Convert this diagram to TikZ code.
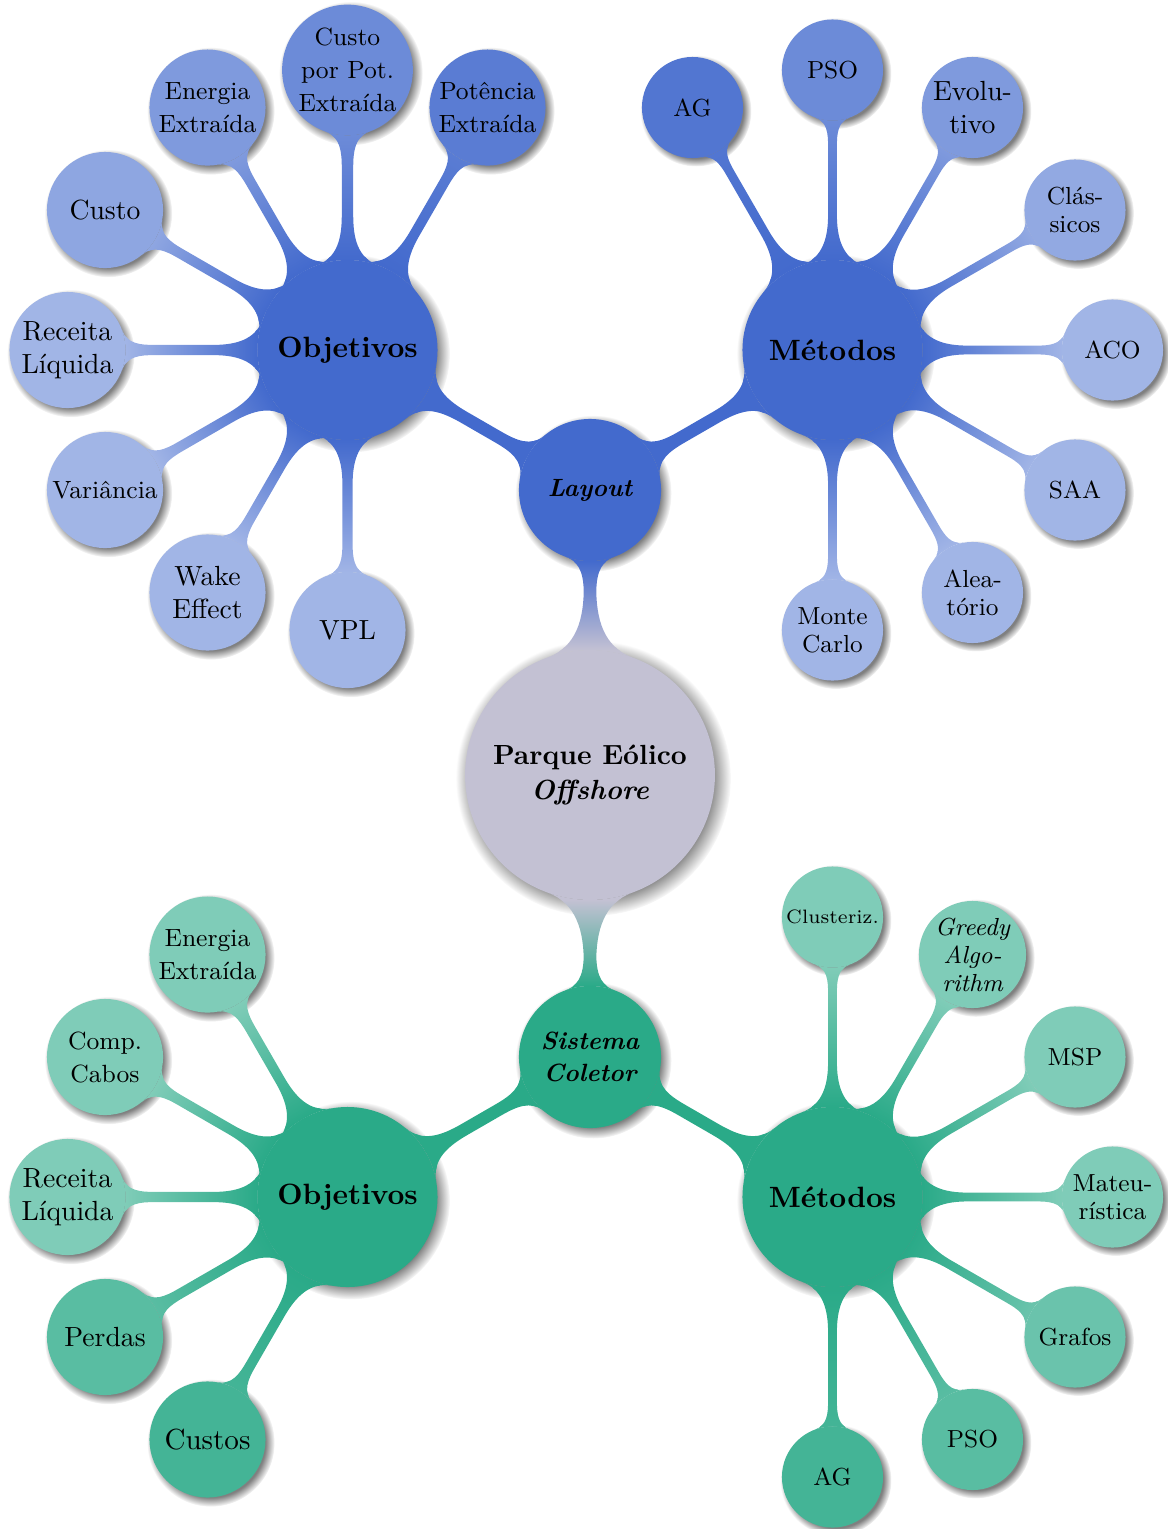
\documentclass[tikz,border=0pt]{standalone}
\usetikzlibrary{mindmap,shadows}
\definecolor{rootcol}{RGB}{195,193,211}
\definecolor{bl}{RGB}{67,106,205}
\definecolor{gr}{RGB}{42,170,136}
\colorlet{bl50}{bl!50!white}
\colorlet{bl58}{bl!58!white}
\colorlet{bl60}{bl!60!white}
\colorlet{bl68}{bl!68!white}
\colorlet{bl78}{bl!78!white}
\colorlet{bl88}{bl!88!white}
\colorlet{bl92}{bl!92!white}
\colorlet{gr60}{gr!60!white}
\colorlet{gr70}{gr!70!white}
\colorlet{gr78}{gr!78!white}
\colorlet{gr88}{gr!88!white}
\begin{document}
\begin{tikzpicture}[mindmap, x=0.361pt, y=0.361pt,
  cc/.style={concept, circle, draw=none, text width={}, align=center, inner sep=0.3pt, text=black,
    circular drop shadow={shadow xshift=1.1pt, shadow yshift=-1.1pt}},
  cl/.style={concept color=#1, fill=#1},
  rootc/.style={cc, cl=rootcol, minimum size=90.2pt, font={\fontsize{10}{12.6}\selectfont\bfseries}},
  lvA/.style={cc, minimum size=51.3pt, font={\fontsize{9}{11.6}\selectfont\bfseries\itshape}},
  lvB/.style={cc, minimum size=65pt, font={\fontsize{10.6}{12.5}\selectfont\bfseries}},
  lfO/.style={cc, minimum size=41.9pt},
  lfM/.style={cc, minimum size=36.5pt},
  fbig/.style={font={\fontsize{10}{11.9}\selectfont}},
  fmedO/.style={font={\fontsize{9}{11.9}\selectfont}},
  fmed/.style={font={\fontsize{8.9}{10.1}\selectfont}},
  fmedI/.style={font={\fontsize{8.9}{10.1}\selectfont\itshape}},
  fsm/.style={font={\fontsize{7}{8.5}\selectfont}},
  fhuge/.style={font={\fontsize{10.5}{12.3}\selectfont}},
  cbar/.style={line width=3.6pt}
]
\useasboundingbox (0,0) rectangle (1168,-1529);

% main nodes
\node[rootc] (root) at (590,-775) {Parque Eólico\\\textit{Offshore}};
\node[lvA, cl=bl] (lay) at (590,-490) {Layout};
\node[lvA, cl=gr] (sis) at (590,-1057) {Sistema\\Coletor};
\node[lvB, cl=bl] (objT) at (347.5,-350) {Objetivos};
\node[lvB, cl=bl] (metT) at (832.5,-350) {Métodos};
\node[lvB, cl=gr] (objB) at (347.5,-1197) {Objetivos};
\node[lvB, cl=gr] (metB) at (832.5,-1197) {Métodos};

% top objetivos leaves
\path (objT) ++(180:280) node[lfO, cl=bl50, fbig] (t1) {Receita\\Líquida};
\path (objT) ++(150:280) node[lfO, cl=bl60, fbig] (t2) {Custo};
\path (objT) ++(120:280) node[lfO, cl=bl68, fmedO] (t3) {Energia\\Extraída};
\path (objT) ++(90:280) node[lfO, cl=bl78, fmedO] (t4) {Custo\\por Pot.\\Extraída};
\path (objT) ++(60:280) node[lfO, cl=bl88, fmedO] (t5) {Potência\\Extraída};
\path (objT) ++(210:280) node[lfO, cl=bl50, fmedO] (t6) {Variância};
\path (objT) ++(240:280) node[lfO, cl=bl50, fbig] (t7) {Wake\\Effect};
\path (objT) ++(270:280) node[lfO, cl=bl50, fbig] (t8) {VPL};

% top metodos leaves
\path (metT) ++(120:280) node[lfM, cl=bl92, fmed] (m1) {AG};
\path (metT) ++(90:280) node[lfM, cl=bl78, fmed] (m2) {PSO};
\path (metT) ++(60:280) node[lfM, cl=bl68, fbig] (m3) {Evolu-\\tivo};
\path (metT) ++(30:280) node[lfM, cl=bl58, fmed] (m4) {Clás-\\sicos};
\path (metT) ++(0:280) node[lfM, cl=bl50, fmed] (m5) {ACO};
\path (metT) ++(-30:280) node[lfM, cl=bl50, fmed] (m6) {SAA};
\path (metT) ++(-60:280) node[lfM, cl=bl50, fmed] (m7) {Alea-\\tório};
\path (metT) ++(-90:280) node[lfM, cl=bl50, fmed] (m8) {Monte\\Carlo};

% bottom objetivos leaves
\path (objB) ++(120:280) node[lfO, cl=gr60, fmedO] (b1) {Energia\\Extraída};
\path (objB) ++(150:280) node[lfO, cl=gr60, fmedO] (b2) {Comp.\\Cabos};
\path (objB) ++(180:280) node[lfO, cl=gr60, fbig] (b3) {Receita\\Líquida};
\path (objB) ++(210:280) node[lfO, cl=gr78, fbig] (b4) {Perdas};
\path (objB) ++(240:280) node[lfO, cl=gr88, fhuge] (b5) {Custos};

% bottom metodos leaves
\path (metB) ++(90:280) node[lfM, cl=gr60, fsm] (n1) {Clusteriz.};
\path (metB) ++(60:280) node[lfM, cl=gr60, fmedI] (n2) {Greedy\\Algo-\\rithm};
\path (metB) ++(30:280) node[lfM, cl=gr60, fmed] (n3) {MSP};
\path (metB) ++(0:280) node[lfM, cl=gr60, fmed] (n4) {Mateu-\\rística};
\path (metB) ++(-30:280) node[lfM, cl=gr70, fmed] (n5) {Grafos};
\path (metB) ++(-60:280) node[lfM, cl=gr78, fmed] (n6) {PSO};
\path (metB) ++(-90:280) node[lfM, cl=gr88, fmed] (n7) {AG};

% connections
\path[cbar] (root) to[circle connection bar switch color=from (rootcol) to (bl)] (lay);
\path[cbar] (root) to[circle connection bar switch color=from (rootcol) to (gr)] (sis);
\path[cbar] (lay) to[circle connection bar switch color=from (bl) to (bl)] (objT);
\path[cbar] (lay) to[circle connection bar switch color=from (bl) to (bl)] (metT);
\path[cbar] (sis) to[circle connection bar switch color=from (gr) to (gr)] (objB);
\path[cbar] (sis) to[circle connection bar switch color=from (gr) to (gr)] (metB);

\path[cbar] (objT) to[circle connection bar switch color=from (bl) to (bl50)] (t1);
\path[cbar] (objT) to[circle connection bar switch color=from (bl) to (bl60)] (t2);
\path[cbar] (objT) to[circle connection bar switch color=from (bl) to (bl68)] (t3);
\path[cbar] (objT) to[circle connection bar switch color=from (bl) to (bl78)] (t4);
\path[cbar] (objT) to[circle connection bar switch color=from (bl) to (bl88)] (t5);
\path[cbar] (objT) to[circle connection bar switch color=from (bl) to (bl50)] (t6);
\path[cbar] (objT) to[circle connection bar switch color=from (bl) to (bl50)] (t7);
\path[cbar] (objT) to[circle connection bar switch color=from (bl) to (bl50)] (t8);

\path[cbar] (metT) to[circle connection bar switch color=from (bl) to (bl92)] (m1);
\path[cbar] (metT) to[circle connection bar switch color=from (bl) to (bl78)] (m2);
\path[cbar] (metT) to[circle connection bar switch color=from (bl) to (bl68)] (m3);
\path[cbar] (metT) to[circle connection bar switch color=from (bl) to (bl58)] (m4);
\path[cbar] (metT) to[circle connection bar switch color=from (bl) to (bl50)] (m5);
\path[cbar] (metT) to[circle connection bar switch color=from (bl) to (bl50)] (m6);
\path[cbar] (metT) to[circle connection bar switch color=from (bl) to (bl50)] (m7);
\path[cbar] (metT) to[circle connection bar switch color=from (bl) to (bl50)] (m8);

\path[cbar] (objB) to[circle connection bar switch color=from (gr) to (gr60)] (b1);
\path[cbar] (objB) to[circle connection bar switch color=from (gr) to (gr60)] (b2);
\path[cbar] (objB) to[circle connection bar switch color=from (gr) to (gr60)] (b3);
\path[cbar] (objB) to[circle connection bar switch color=from (gr) to (gr78)] (b4);
\path[cbar] (objB) to[circle connection bar switch color=from (gr) to (gr88)] (b5);

\path[cbar] (metB) to[circle connection bar switch color=from (gr) to (gr60)] (n1);
\path[cbar] (metB) to[circle connection bar switch color=from (gr) to (gr60)] (n2);
\path[cbar] (metB) to[circle connection bar switch color=from (gr) to (gr60)] (n3);
\path[cbar] (metB) to[circle connection bar switch color=from (gr) to (gr60)] (n4);
\path[cbar] (metB) to[circle connection bar switch color=from (gr) to (gr70)] (n5);
\path[cbar] (metB) to[circle connection bar switch color=from (gr) to (gr78)] (n6);
\path[cbar] (metB) to[circle connection bar switch color=from (gr) to (gr88)] (n7);
\end{tikzpicture}
\end{document}
